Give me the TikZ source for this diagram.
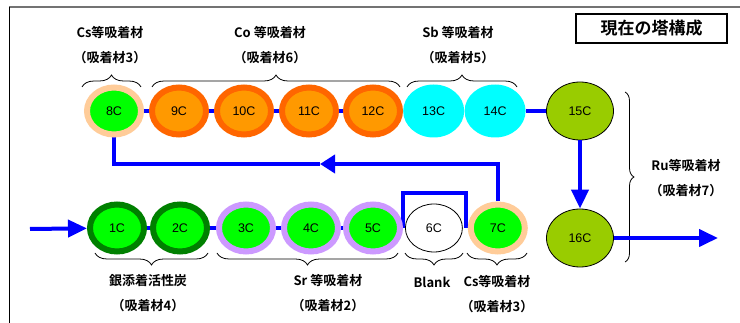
\documentclass[tikz,border=0pt]{standalone}
\usepackage{fontspec}
\setmainfont{Liberation Sans}
\newfontfamily\jpfont{Noto Sans CJK JP}[BoldFont={Noto Sans CJK JP Bold}]
\usepackage{xcolor}
\usepackage{tikz}
\usetikzlibrary{positioning,arrows.meta,backgrounds,shapes.geometric,decorations.pathreplacing}
\definecolor{cFlow}{HTML}{0000FF}
\definecolor{cGreen}{HTML}{00FF00}
\definecolor{cDkGreen}{HTML}{008000}
\definecolor{cLav}{HTML}{CC99FF}
\definecolor{cPeach}{HTML}{FFCC99}
\definecolor{cOrange}{HTML}{FF9900}
\definecolor{cOrangeDk}{HTML}{FF6600}
\definecolor{cCyan}{HTML}{00FFFF}
\definecolor{cOlive}{HTML}{99CC00}

\begin{document}
\begin{tikzpicture}[
  x=1pt,y=-1pt,
  font=\fontsize{12.5}{14}\selectfont,
  col/.style={ellipse,minimum width=54pt,minimum height=47pt,inner sep=0pt,line width=6pt},
  agcol/.style={col,draw=cDkGreen,fill=cGreen},
  srcol/.style={col,draw=cLav,fill=cGreen},
  cscol/.style={col,draw=cPeach,fill=cGreen},
  cocol/.style={col,draw=cOrangeDk,fill=cOrange},
  sbcol/.style={ellipse,minimum width=61pt,minimum height=53pt,inner sep=0pt,fill=cCyan},
  rucol/.style={ellipse,minimum width=67pt,minimum height=58pt,inner sep=0pt,draw,line width=0.8pt,fill=cOlive},
  blankcol/.style={ellipse,minimum width=57pt,minimum height=48pt,inner sep=0pt,draw,line width=0.8pt,fill=white},
  lbl/.style={font=\jpfont\bfseries\fontsize{13}{25}\selectfont,align=center},
  flowline/.style={cFlow,line width=4pt},
  flow/.style={flowline,-{Triangle[length=19pt,width=17pt]}},
  brc/.style={decorate,decoration={brace,amplitude=12pt},line width=0.8pt},
  brcd/.style={brc,decoration={mirror}}
]
\useasboundingbox (0,0) rectangle (740,323);
\draw[black!55,line width=1.5pt] (9,7) -- (740,7);
\draw[line width=0.8pt] (9,7) -- (9,323);

% --- upper row: 8C ... 15C ---
\node[cscol] (n8) at (114,111) {8C};
\node[cocol,right=5pt of n8] (n9) {9C};
\node[cocol,right=5pt of n9] (n10) {10C};
\node[cocol,right=5pt of n10] (n11) {11C};
\node[cocol,right=4pt of n11] (n12) {12C};
\node[sbcol,right=0pt of n12] (n13) {13C};
\node[sbcol,right=0pt of n13] (n14) {14C};
\node[rucol] (n15) at (580,111) {15C};
\node[rucol] (n16) at (580,238) {16C};

% --- lower row: 1C ... 7C ---
\node[agcol] (n1) at (117,228) {1C};
\node[agcol,right=3pt of n1] (n2) {2C};
\node[srcol,right=6pt of n2] (n3) {3C};
\node[srcol,right=5pt of n3] (n4) {4C};
\node[srcol,right=2pt of n4] (n5) {5C};
\node[blankcol,right=2pt of n5] (n6) {6C};
\node[cscol,right=5pt of n6] (n7) {7C};

\coordinate (in) at (30,229);
\coordinate (out) at (718,238);
\coordinate (ret) at (320,164);
\coordinate (byl) at (403,193);
\coordinate (byr) at (466,193);

\begin{scope}[on background layer]
  \draw[flowline] (n1) -- (n2);
  \draw[flowline] (n2) -- (n3);
  \draw[flowline] (n3) -- (n4);
  \draw[flowline] (n4) -- (n5);
  \draw[flowline] (byl |- n5) -- (byl) -- (byr) -- (byr |- n7);
  \draw[flowline] (n8) -- (n9);
  \draw[flowline] (n9) -- (n10);
  \draw[flowline] (n10) -- (n11);
  \draw[flowline] (n11) -- (n12);
  \draw[flowline] (n12) -- (n13);
  \draw[flowline] (n13) -- (n14);
  \draw[flowline] (n14) -- (n15);
  \draw[flowline] (ret) -| (n8.south);
\end{scope}
\draw[flow] (in) -- (n1);
\draw[flowline,-{Triangle[length=15pt,width=18pt]}] (n7.north) |- (ret);
\draw[flow] (n15) -- (n16);

% braces
\draw[brc] (82,87) -- (141,87);
\draw[brc] (152,87) -- (400,87);
\draw[brc] (407,87) -- (517,87);
\draw[brcd] (95,253) -- (208,253);
\draw[brcd] (217,253) -- (398,253);
\draw[brcd] (405,253) -- (463,253);
\draw[brcd] (467,253) -- (527,253);
\draw[brc,decoration={amplitude=9pt}] (625,92) -- (625,262);
\draw[flow] (n16) -- (out);

% labels
\node[lbl] (lblCs8) at (110,45.5) {Cs等吸着材\\（吸着材3）};
\node[lbl] (lblCo) at (270,45.5) {Co 等吸着材\\（吸着材6）};
\node[lbl] (lblSb) at (458,45.5) {Sb 等吸着材\\（吸着材5）};
\node[lbl] (lblRu) at (686,178.5) {Ru等吸着材\\（吸着材7）};
\node[lbl] (lblAgC) at (148,293) {銀添着活性炭\\（吸着材4）};
\node[lbl] (lblSr) at (328,293.5) {Sr 等吸着材\\（吸着材2）};
\node[lbl] (lblBlank) at (432,282) {Blank};
\node[lbl] (lblCs7) at (497,294) {Cs等吸着材\\（吸着材3）};
\node[draw,line width=1.2pt,minimum width=151pt,minimum height=29pt,
      font=\jpfont\bfseries\fontsize{17}{20}\selectfont] (title) at (651.5,28.5) {現在の塔構成};
\end{tikzpicture}
\end{document}
